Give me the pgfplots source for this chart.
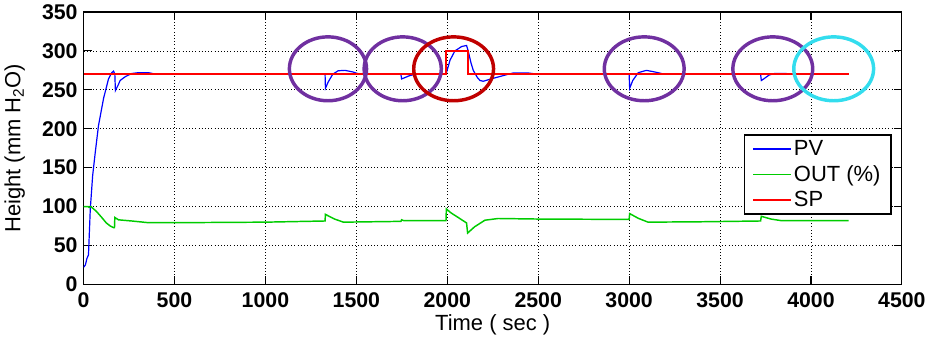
\documentclass[border=0pt]{standalone}
\usepackage{pgfplots}
\pgfplotsset{compat=1.18}
\usepackage{fontspec}
\setmainfont{Liberation Sans}
\definecolor{purp}{RGB}{112,48,160}
\definecolor{dred}{RGB}{192,0,0}
\definecolor{cyanc}{RGB}{51,221,238}
\definecolor{gline}{RGB}{0,204,0}
\begin{document}
\begin{tikzpicture}
\begin{axis}[
  scale only axis,
  width=615pt, height=204.75pt,
  xmin=0, xmax=4500, ymin=0, ymax=350,
  xtick={0,500,...,4500}, ytick={0,50,...,350},
  /pgf/number format/assume math mode=true,
  /pgf/number format/1000 sep={},
  grid=major,
  grid style={dotted, black, line width=0.6pt},
  tick align=inside,
  major tick length=6pt,
  axis line style={line width=0.8pt},
  tick style={line width=0.8pt, black},
  tick label style={font=\fontsize{16}{19}\selectfont\bfseries},
  xticklabel style={yshift=-3pt},
  yticklabel style={xshift=-1pt},
  label style={font=\fontsize{16.5}{20}\selectfont},
  xlabel={Time ( sec )},
  ylabel={Height (mm H\textsubscript{2}O)},
  xlabel style={yshift=2pt},
  ylabel style={yshift=6pt},
  legend style={at={(0.988,0.5505)}, anchor=north east, draw=black, line width=1.3pt,
    font=\fontsize{16.5}{19}\selectfont, inner xsep=6pt, inner ysep=2pt, row sep=2pt},
  legend cell align=left,
  legend image code/.code={\draw[#1, line width=1.2pt] (0pt,0pt) -- (28pt,0pt);},
]
\addplot[blue, line width=0.9pt] coordinates {
(0,22) (10,25) (18,33) (27,38) (37,97) (50,140) (64,169) (82,204) (110,239)
(137,264) (155,272) (165,274) (172,270) (175,249) (190,256) (201,262) (230,267)
(265,271) (300,272) (357,272) (400,270) (1328,270) (1330,252) (1345,260)
(1370,270) (1400,274.5) (1438,275) (1480,273) (1520,270) (1745,270) (1749,264)
(1760,265) (1790,268) (1822,270) (1993,270) (2015,288) (2042,300) (2079,305.6)
(2106,307) (2115,300) (2130,285) (2143,275) (2165,266) (2180,262) (2198,261)
(2240,264) (2280,266.5) (2335,270) (2360,271.5) (2450,271.5) (2500,270)
(3000,270) (3003,252) (3020,262) (3050,272) (3095,275) (3140,273) (3196,270)
(3723,270) (3727,262) (3740,264) (3770,269) (3800,271) (3860,271) (3900,270)
(4207,270)
};
\addlegendentry{PV}
\addplot[gline, line width=1.1pt] coordinates {
(0,100) (25,100) (30,99) (40,100) (50,98) (70,94) (100,86) (125,79) (147,75)
(165,73) (170,73) (172,86) (192,83) (265,81.5) (357,79.3) (500,79.3) (1000,80)
(1328,81.5) (1330,90) (1380,84) (1429,80) (1745,81) (1749,83) (1760,82)
(1993,82) (1995,97) (2020,92) (2060,86) (2106,79) (2112,66) (2150,74)
(2207,82.5) (2280,84.7) (2500,84) (3000,83.5) (3003,91) (3050,85) (3104,80)
(3400,80.5) (3723,81.5) (3727,87.5) (3780,84) (3835,82) (4207,82)
};
\addlegendentry{OUT (\%)}
\addplot[red, line width=1.3pt] coordinates {
(0,270) (1993,270) (1993,300) (2112,300) (2112,270) (4207,270)
};
\addlegendentry{SP}
\draw[purp, line width=2.6pt] (axis cs:1344,277) ellipse [x radius=29pt, y radius=24pt];
\draw[purp, line width=2.6pt] (axis cs:1755,277) ellipse [x radius=29pt, y radius=24pt];
\draw[dred, line width=2.6pt] (axis cs:2035,277) ellipse [x radius=30pt, y radius=24pt];
\draw[purp, line width=2.6pt] (axis cs:3083,277) ellipse [x radius=30pt, y radius=24pt];
\draw[purp, line width=2.6pt] (axis cs:3790,277) ellipse [x radius=30pt, y radius=24pt];
\draw[cyanc, line width=2.6pt] (axis cs:4125,277) ellipse [x radius=30pt, y radius=24pt];
\end{axis}
\end{tikzpicture}
\end{document}
